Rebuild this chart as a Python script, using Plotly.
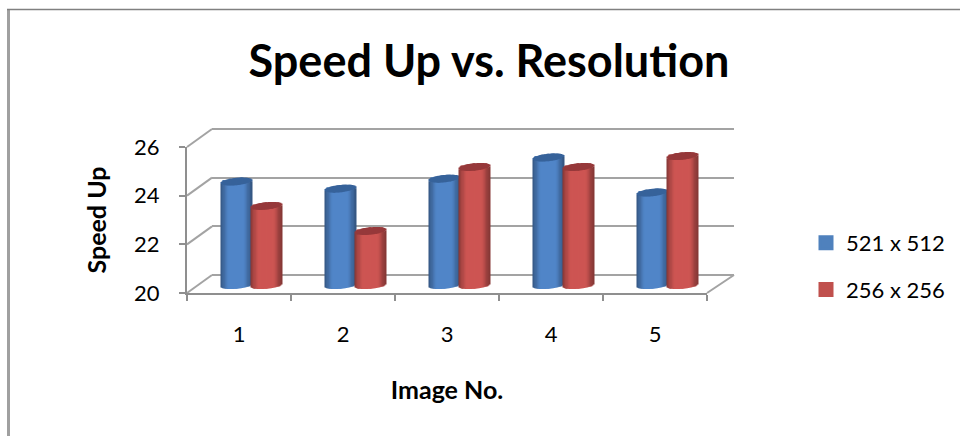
import math
import plotly.graph_objects as go

# ---------- data ----------
categories = ["1", "2", "3", "4", "5"]
series_a_name = "521 x 512"
series_b_name = "256 x 256"
series_a = [24.25, 23.96, 24.37, 25.24, 23.80]
series_b = [23.25, 22.22, 24.85, 24.85, 25.30]
tick_values = [20, 22, 24, 26]
tick_labels = ["20", "22", "24", "26"]

W, H = 960, 436
FONT = "Lato"
GRID = "#a3a3a3"
AXIS = "#8f8f8f"

def px(x): return x / W
def py(y): return 1 - y / H

# front plane, back wall and the mid-depth plane of the bars (pixel frame)
FL, FR, FB, FT = 187, 707, 293, 147
DX, DY = 25, -18
BACK_R = 734
MID_DX, MID_DY = 12.5, -8
UNIT = (FB - FT) / 6
WALL_PAD = 0.2          # value units added so the 20 and 26 grid lines are kept

fig = go.Figure()

BANDS = 26
HALF = 0.149            # half cylinder width, in category units
CAP = 3.7 / UNIT        # half height of the elliptical end, in value units
TILT = 1.5 / UNIT
BASE_VALUE = 20

def shade(rgb, t, lo):
    a = abs(t)
    f = 1.0 if a < 0.45 else 1 - (1 - lo) * ((a - 0.45) / 0.55) ** 1.4
    return "rgb(%d,%d,%d)" % tuple(round(c * f) for c in rgb)

def cylinder(values, centre, body, lid, legend_color, name, group):
    xs = [i + 1 for i in range(len(values))]
    # solid underlay carrying the legend entry
    fig.add_trace(go.Bar(
        x=xs, y=[v - BASE_VALUE for v in values], base=BASE_VALUE,
        width=2 * HALF * 0.8, offset=centre - HALF * 0.8,
        marker=dict(color=legend_color, line=dict(color=legend_color, width=3)),
        name=name, legendgroup=group, showlegend=True,
        xaxis="x3", yaxis="y3", hoverinfo="skip"))
    dx = 2 * HALF / BANDS
    for k in range(BANDS):
        t = -1 + (k + 0.5) * 2 / BANDS
        r = math.sqrt(max(0, 1 - t * t))
        left = centre - HALF + k * dx
        w = dx * 1.6 if k < BANDS - 1 else dx
        skew = TILT * t
        low = [BASE_VALUE - CAP * r + skew for _ in values]
        mid = [v - CAP * r + skew for v in values]
        top = [v + CAP * r + skew for v in values]
        fig.add_trace(go.Bar(
            x=xs, y=[m - l for m, l in zip(mid, low)], base=low,
            width=w, offset=left, marker=dict(color=shade(body, t, 0.62), line=dict(width=0)),
            showlegend=False, legendgroup=group,
            xaxis="x3", yaxis="y3", hoverinfo="skip"))
        fig.add_trace(go.Bar(
            x=xs, y=[a - b for a, b in zip(top, mid)], base=mid,
            width=w, offset=left, marker=dict(color=lid, line=dict(width=0)),
            showlegend=False, legendgroup=group,
            xaxis="x3", yaxis="y3", hoverinfo="skip"))

# carrier for the front axes (labels and ticks)
fig.add_trace(go.Scatter(
    x=categories, y=series_a, mode="markers", marker=dict(opacity=0),
    showlegend=False, xaxis="x", yaxis="y", hoverinfo="skip"))
# back-wall axes carrier
fig.add_trace(go.Scatter(
    x=[1, 5], y=[20, 26], mode="markers", marker=dict(opacity=0),
    showlegend=False, xaxis="x2", yaxis="y2", hoverinfo="skip"))

cylinder(series_a, -0.145, (80, 133, 200), "#37629a", "#4f81bd", series_a_name, "a")
cylinder(series_b, 0.143, (205, 85, 82), "#96393a", "#c0504d", series_b_name, "b")

# wall edges
shapes = []
def seg(x0, y0, x1, y1, color=GRID, width=2):
    shapes.append(dict(type="line", xref="paper", yref="paper", layer="below",
                       x0=px(x0), y0=py(y0), x1=px(x1), y1=py(y1),
                       line=dict(color=color, width=width)))
for v in tick_values:
    y = FB - (v - 20) * UNIT
    seg(FL, y, FL + DX, y + DY)
seg(FR, FB, BACK_R, FB + DY)
# chart frame
seg(8.5, H, 8.5, 9, "#a0a0a0", 3)
seg(7, 9.5, W, 9.5, "#808080", 1.5)

fig.update_layout(
    template="none",
    width=W, height=H, margin=dict(l=0, r=0, t=0, b=0),
    paper_bgcolor="white", plot_bgcolor="rgba(0,0,0,0)",
    barmode="overlay", shapes=shapes,
    font=dict(family=FONT, color="#000000", size=22),
    title=dict(text="<b>Speed Up vs. Resolution</b>", font=dict(family=FONT, size=45, color="#000000"),
               x=px(489), xanchor="center", xref="paper",
               y=py(61), yanchor="middle", yref="container"),
    xaxis=dict(domain=[px(FL), px(FR)], type="category", categoryorder="array", categoryarray=categories,
               range=[-0.5, 4.5],
               anchor="y", tickson="boundaries", ticks="outside", ticklen=6, tickwidth=2, tickcolor=AXIS,
               showline=True, linecolor=AXIS, linewidth=2, showgrid=False, zeroline=False, automargin=False,
               ticklabelstandoff=21, tickfont=dict(size=22),
               title=dict(text="<b>Image No.</b>", font=dict(size=25), standoff=35)),
    yaxis=dict(domain=[py(FB), py(FT)], range=[20, 26], tickvals=tick_values, ticktext=tick_labels,
               anchor="x", ticks="outside", ticklen=6, tickwidth=2, tickcolor=AXIS,
               showline=True, linecolor=AXIS, linewidth=2, showgrid=False, zeroline=False, automargin=False,
               ticklabelstandoff=15, tickfont=dict(size=22),
               title=dict(text="<b>Speed Up</b>", font=dict(size=25), standoff=20)),
    xaxis2=dict(domain=[px(FL + DX), px(BACK_R)], range=[0.5, 5.5], anchor="y2", visible=False),
    yaxis2=dict(domain=[py(FB + DY + WALL_PAD * UNIT), py(FT + DY - WALL_PAD * UNIT)],
                range=[20 - WALL_PAD, 26 + WALL_PAD], tickvals=tick_values, anchor="x2",
                showgrid=True, gridcolor=GRID, gridwidth=2,
                showline=False, showticklabels=False, ticks="", zeroline=False, automargin=False),
    xaxis3=dict(domain=[px(FL + MID_DX), px(FR + MID_DX)], range=[0.5, 5.5], anchor="y3", visible=False),
    yaxis3=dict(domain=[py(FB + MID_DY + UNIT), py(FT + MID_DY - UNIT)], range=[19, 27], anchor="x3",
                visible=False),
    legend=dict(x=px(806), y=py(222), xanchor="left", yanchor="top", bgcolor="rgba(0,0,0,0)",
                font=dict(size=22), traceorder="grouped", tracegroupgap=15, itemclick=False),
)

fig.write_html("out.html", config=dict(displayModeBar=False), post_script="document.body.style.margin='0';")
